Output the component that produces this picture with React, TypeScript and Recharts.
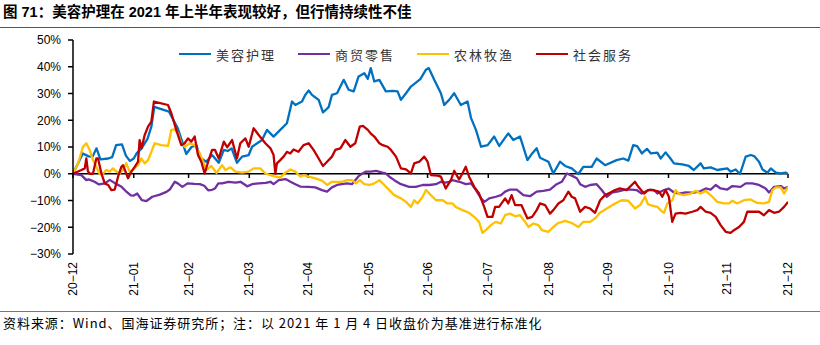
import React from "react";
import { LineChart, Line, XAxis, YAxis, ReferenceLine } from "recharts";

// x = days after 2020-12-31, y = % change vs. 2021-01-04 close
const beauty: [number, number][] = [
  [0,0],[5,7.6],[8,6.5],[10,6.4],[12,9.5],[14,5.4],[18,5.7],[20,6.2],[22,10.7],[25,11],[27,6.8],[29,4.8],[31,5.7],[32.5,7.6],[35,9.5],[38,13],[40,17.6],[41.5,25],[49,23.2],[53.5,17],[55.5,12.6],[57.8,7.4],[60.5,10],[63,10.7],[65,6],[68,4.5],[71,7],
  [74.4,4.1],[77,8.9],[79,8.5],[81,9.5],[83.7,4.1],[86.3,6.4],[89.7,7],[91.4,10.1],[96.5,12.6],[99,16.4],[102.4,13.9],[105.8,16.4],[109.2,18.9],[111.8,27],[113.5,25.7],[116.9,27],[118.6,29.5],[120.3,31.1],[122,29.5],[125.4,27.6],[127.6,22.9],[130.5,24.9],[132.2,29.5],[134.8,30.1],[138.2,35.1],[140.7,31.4],[143.3,30.8],[145.8,36.4],[148.7,37.6],[150.5,35.5],[152,39.5],[153.8,34.5],[156.4,35.1],[159.7,30.8],[163.2,31],[165.7,30.8],[167.4,27.6],[170,30.1],[172.5,32.6],[177.3,35.4],[180.2,38.9],[181.6,39.5],[184.4,35.1],[186.1,32.6],[187.8,30.1],[189.5,25.7],[192,27.6],[194.6,30.1],[198,25.7],[201.4,27],[203.2,20.8],[205.7,16.4],[208.3,10.1],[211.7,10.7],[215,13.9],[217.6,10.4],[222.2,15.1],[224.8,12.6],[228.2,13.9],[232,5.1],[234.4,7.6],[236.7,9.5],[238.4,6],[242.7,4.5],[245.2,0.1],[248.6,4.5],[251.2,2.9],[254.6,2],[258,-0.1],[260.5,2.6],[264.8,2.6],[267.3,5.7],[271.6,3.2],[277.5,5.1],[280.9,5.7],[283.5,4.9],[286,10.7],[288,10.3],[290.4,7.6],[293,9.3],[295,7.6],[298.3,7.9],[300,5.7],[302.5,8],[305,5.7],[306.8,3.9],[311,3.5],[314.4,2.9],[316.9,1.4],[320.4,3.9],[322,2],[325.5,2.4],[328.9,1.4],[334,2],[335.7,0.8],[338.3,1.6],[340.5,-0.1],[343.4,6.4],[346,7],[347.7,6.6],[350.2,4.5],[352,1.6],[354.5,0.4],[356.2,2],[358.8,0.4],[361.3,0.1],[363.9,0.4],[365,-0.1],
];

const retail: [number, number][] = [
  [0,0],[4.3,-0.5],[6.8,-2.4],[8,-2.1],[11,-3],[13.3,-4],[16.2,-3.6],[18.8,-2.3],[21.5,-3.6],[24.8,-4.9],[27.4,-6.8],[29.5,-8.1],[30.8,-8.2],[32.8,-7.4],[35.2,-9.9],[37.5,-10.2],[40.5,-8.6],[44.3,-7.8],[47.7,-6.8],[49.4,-5.9],[51.9,-3],[53.5,-3.6],[55.8,-4.9],[58.5,-3.6],[62,-3.8],[64.8,-3.9],[67,-4.5],[69,-6.2],[71,-6],[72.5,-5.5],[74.2,-3.6],[76.1,-3.6],[79.4,-3],[83,-3.3],[85.5,-3],[88.9,-4.7],[91.4,-3.9],[94.8,-3.6],[98.3,-3.4],[100.8,-3],[102.4,-3.9],[105,-2.4],[108.5,-2],[111,-3],[113.5,-3.9],[116,-4.8],[120.3,-4.9],[123.7,-5.1],[127.1,-6.1],[129.7,-6.7],[132.2,-5.1],[134.8,-4.2],[137.3,-3.9],[139.9,-3.6],[142.4,-3.9],[144.1,-2.4],[145.8,-0.9],[147.5,0],[149.6,0.8],[152,0.8],[154.7,1.1],[158,0.4],[159.7,0.1],[161.5,-1.1],[164,-2.4],[167.4,-3.9],[171.6,-4.9],[175,-4.9],[178.5,-4.2],[181.9,-4.2],[185.3,-3.9],[187.8,-3],[190,-3.3],[192,-3],[193.7,-2.4],[197.2,-3],[200.6,-3.9],[203.2,-3.6],[205.7,-6.1],[208.3,-9.2],[210,-10.5],[212.5,-9.2],[215.9,-8.6],[218.5,-8],[220.6,-6.7],[223.1,-5.9],[226.5,-5.9],[229.9,-8],[233.3,-8.4],[236.7,-6.7],[240.1,-6.4],[243.5,-5.9],[246.9,-3.9],[249.5,-3],[252.1,0.1],[254.6,-0.7],[257.2,-1.7],[258.9,-3.9],[261.4,-4.9],[264,-4.2],[267.3,-3.9],[269.9,-6.1],[272.5,-8.6],[275,-7.1],[278.4,-6.6],[281.8,-5.9],[285.2,-5.9],[287.7,-6.1],[290.3,-7.4],[292.8,-6.5],[294.5,-5.9],[296.6,-6.1],[298.3,-7.4],[301.7,-6.1],[304.2,-5.6],[306.8,-7],[309.4,-7.4],[312.7,-7],[316.1,-7.1],[319.6,-6.7],[323,-5.5],[325.5,-5.9],[328.1,-4.2],[330.6,-5.5],[334,-5.9],[336.6,-4.6],[340.8,-4.9],[343.4,-3.6],[346.8,-3.6],[350.2,-4.2],[353.6,-5.5],[355.3,-7],[357.9,-4.9],[361.3,-4.6],[363,-5.5],[365,-4.9],
];

const agri: [number, number][] = [
  [0,0],[2.6,3.9],[5.1,10.1],[6.8,11.4],[8.5,8.9],[10.2,5.1],[11.9,2.6],[13.6,-0.1],[15.3,0],[17,1.4],[18.7,0.8],[20.4,2],[22.1,0.8],[23.8,0.1],[25.5,1.4],[27.2,3.9],[28.9,0.8],[30.6,1.4],[33.2,3.2],[34.9,5.7],[36.6,3.9],[38.3,5.1],[40,8.2],[41.7,11.4],[45.1,10.7],[48.5,10.4],[50.2,16.4],[51.9,16.6],[53.6,15.1],[55.3,11.4],[57,10.1],[59.6,11.4],[62.1,10.7],[64.7,7.6],[66.4,4.5],[68.1,1.4],[70.6,2.9],[73.3,0.3],[76.1,3.2],[77.8,1.4],[80.4,2.4],[82.9,0.8],[86.3,0.4],[89.7,0.8],[92.2,2],[95.6,2],[98.2,0.1],[100.8,-0.5],[103.3,-1.1],[105.9,-1.4],[108.4,0.4],[111,1.6],[113.5,0.8],[116.1,-1.1],[117.8,-0.5],[120.3,-1.1],[123.7,-1.7],[127.1,-2.6],[129.7,-4.2],[132.2,-3],[134.8,-3],[137.3,-3],[139.9,-2.4],[142.4,-2.4],[144.5,-3.6],[146.4,-2.4],[148.7,-3.9],[151.3,-4.2],[153.8,-3.6],[156.4,-2.4],[158.9,-4.2],[161.5,-6.1],[164,-8],[167.4,-9.2],[170,-10.5],[172.5,-12.4],[174.2,-9.9],[175.9,-11.1],[178.5,-8.6],[180.2,-6.1],[182.7,-8],[185.3,-9.9],[188.7,-9.9],[191.2,-11.1],[193.7,-11.1],[195.4,-12.4],[198.8,-13.6],[202.2,-14.6],[204.8,-16.1],[207.3,-18],[209,-22.1],[210.7,-21.1],[213.3,-19.2],[215.8,-18],[218.4,-18.6],[220.6,-15.5],[223.1,-14.9],[225.7,-15.9],[228.2,-15.5],[230.8,-18],[232.5,-19.9],[235,-18.6],[237.6,-19.2],[239.3,-21.1],[242.7,-21.7],[245.2,-19.9],[247.8,-18.4],[251.2,-17.6],[254.6,-18.4],[258,-19.9],[260.5,-18],[264,-18],[266.5,-16.7],[269,-14.6],[272.5,-13],[276.7,-11.1],[280.1,-9.9],[283.5,-10.1],[286.9,-13],[289.5,-11.7],[292,-8.6],[293.5,-11.4],[296,-12],[298.3,-12.4],[300.8,-14.2],[301.7,-14.6],[303.4,-11.1],[306,-9.9],[307.6,-6.1],[309.4,-7.6],[311.9,-8],[315.3,-7.4],[317.9,-6.4],[320.4,-7.4],[323,-6.4],[326.4,-8.6],[328.9,-10.5],[332.3,-11.1],[334.9,-11.1],[336.6,-10.1],[339.1,-11.1],[342.5,-9.9],[345.9,-9.6],[349.3,-10.9],[352.7,-11.1],[355.3,-10.5],[357,-6.1],[358.7,-5.1],[361.3,-5.1],[363,-7.4],[365,-4.9],
];

const service: [number, number][] = [
  [0,0],[4.3,1.4],[6,2],[6.8,5.7],[7.6,1],[8.5,0],[10.2,0],[11.9,5.7],[12.8,5.7],[14.5,0.1],[16.2,-3.6],[17.9,-4.2],[19.6,-6.1],[21.3,-5.9],[23,-1.1],[24.7,2.6],[25.5,3.2],[26.5,1.4],[28.1,-1.7],[29.8,0.8],[31.5,2.6],[33.2,4.5],[34,12.6],[35,9.5],[36.6,14.5],[38.3,17.6],[40,19.5],[41.3,27],[48.5,25.7],[50.2,22.6],[52.7,16.4],[55.3,10.7],[57,11.4],[58.7,13.2],[60.4,12],[62.1,13.9],[63.8,7],[65.5,4.5],[67.2,0.1],[69,4.5],[71,8.9],[72.5,8.9],[74.4,5.7],[77,12],[78.7,9.9],[81.2,12.6],[83.7,5.7],[85.4,11.4],[88,13.2],[89.7,10.1],[92.2,17],[94.8,14.5],[98.2,11.4],[100.8,9.5],[102.4,7],[103.3,0],[104.1,3.9],[105.8,5.1],[107.5,6.4],[109.2,8.2],[110.9,7.6],[112.6,9.1],[115.1,8.2],[117.7,10.7],[120.3,11.4],[122.8,8.9],[125.4,5.7],[127.6,2.9],[129.7,4.5],[132.2,6.4],[133.9,8.9],[136.5,9.5],[139,12.6],[141.6,10.1],[144.1,11.4],[146.4,17.6],[148,17.9],[150.5,16.4],[152.2,14.9],[153.8,13.9],[156.4,11.4],[158.1,10.7],[160.6,10.1],[162.3,8.9],[164.9,6.4],[167.4,2],[170,1.6],[172.5,0.1],[174.2,3.9],[176.8,4.5],[179.3,6.4],[181,4.5],[182.7,-0.5],[186.1,-0.7],[187.8,-1.1],[190.3,-5.5],[192.9,-2.4],[194.6,1.1],[197.1,-2.1],[198.8,0.1],[200.5,2.6],[202.2,-1.1],[204.8,-4.9],[207.3,-7.4],[209.9,-12.4],[211.6,-16.1],[214.1,-16.1],[215.5,-12.4],[217.5,-12.4],[220.6,-9.2],[222.2,-11.1],[223.9,-8],[225.7,-11.7],[228.9,-11.7],[232,-16.7],[234.4,-16.1],[236.7,-13.6],[238.4,-11.1],[241,-11.7],[243.5,-14.9],[245.2,-13.6],[247.8,-11.1],[250.3,-9.9],[252.9,-6.7],[254.6,-8.6],[256.3,-9.2],[258.9,-14.2],[261.4,-12.4],[264,-13],[266.5,-14.6],[269.1,-9.9],[271.6,-8],[274.1,-7.1],[276.7,-6.1],[279.2,-5.5],[282.6,-6.1],[286.9,-3],[288.6,-4.9],[291.5,-7.4],[293.5,-6.1],[295.8,-6.1],[299.2,-6.7],[300.8,-8.6],[302.5,-6.1],[304.2,-8.6],[305.9,-18],[307.6,-14.9],[310.1,-14.6],[312.7,-14.9],[316.1,-14.2],[318.7,-13.6],[320.4,-12.4],[323,-14.2],[325.5,-14.6],[328.1,-16.1],[330.6,-19.2],[333.2,-21.7],[335.7,-22.1],[337.4,-21.1],[340,-19.9],[342.5,-18],[344.2,-14.2],[347.6,-14.2],[350.2,-14.2],[352.7,-15.5],[355.3,-13.6],[357.9,-14.6],[360.4,-14.2],[363,-12.4],[365,-10.5],
];

// month-end tick positions (days after 2020-12-31) and labels
const monthEndDays = [0, 31, 59, 90, 120, 151, 181, 212, 243, 273, 304, 334, 365];
const monthLabels = ["20−12", "21−01", "21−02", "21−03", "21−04", "21−05", "21−06", "21−07", "21−08", "21−09", "21−10", "21−11", "21−12"];
const yTicks = [-30, -20, -10, 0, 10, 20, 30, 40, 50];

const seriesNames = ["美容护理", "商贸零售", "农林牧渔", "社会服务"];
const seriesColors = ["#0070C0", "#7030A0", "#FFC000", "#C00000"];
const seriesData = [beauty, retail, agri, service];

const LATIN = "'Liberation Sans', Arial, 'Noto Sans CJK SC', sans-serif";
const CJK = "'Liberation Sans', 'Noto Sans CJK SC', sans-serif";

const XTick = (props: any) => {
  const { x, y, payload } = props;
  const idx = monthEndDays.indexOf(payload.value);
  return (
    <text
      x={x}
      y={y}
      transform={`rotate(-90 ${x} ${y})`}
      textAnchor="end"
      dominantBaseline="central"
      fontSize={12}
      fontFamily={LATIN}
      fill="#000"
    >
      {idx >= 0 ? monthLabels[idx] : ""}
    </text>
  );
};

const fmtY = (v: number) => (v < 0 ? `−${Math.abs(v)}%` : `${v}%`);

export default function App() {
  return (
    <div style={{ position: "absolute", left: 0, top: 0, width: 820, height: 345, background: "#fff", overflow: "hidden" }}>
      <div
        style={{
          position: "absolute",
          left: 3,
          top: 3,
          fontSize: 14.5,
          fontWeight: "bold",
          fontFamily: CJK,
          color: "#000",
          whiteSpace: "nowrap",
          lineHeight: "18px",
        }}
      >
        图 71：美容护理在 2021 年上半年表现较好，但行情持续性不佳
      </div>
      <div style={{ position: "absolute", left: 0, top: 27, width: 820, height: 0, borderTop: "1.5px solid #555" }} />

      <div style={{ position: "absolute", left: 0, top: 0 }}>
        <LineChart width={820} height={310} margin={{ top: 40, right: 32, bottom: 6, left: 0 }}>
          <XAxis
            type="number"
            dataKey="d"
            domain={[0, 365]}
            ticks={monthEndDays}
            tick={<XTick />}
            tickLine={false}
            axisLine={false}
            tickSize={6}
            tickMargin={2}
            height={50}
            interval={0}
            allowDataOverflow
          />
          <YAxis
            type="number"
            domain={[-30, 50]}
            ticks={yTicks}
            tickFormatter={fmtY}
            width={73}
            tickSize={5}
            tickMargin={7}
            axisLine={{ stroke: "#000", strokeWidth: 1.5 }}
            tickLine={{ stroke: "#000", strokeWidth: 1.5 }}
            tick={{ fontSize: 12, fontFamily: LATIN, fill: "#000" }}
            interval={0}
          />
          <ReferenceLine y={0} stroke="#000" strokeWidth={1.5} />
          {monthEndDays.map((d) => (
            <ReferenceLine
              key={`t${d}`}
              segment={[{ x: d, y: 0 }, { x: d, y: -1.6 }]}
              stroke="#000"
              strokeWidth={1.5}
            />
          ))}
          {seriesData.map((s, i) => (
            <Line
              key={seriesNames[i]}
              data={s.map(([d, v]) => ({ d, v }))}
              dataKey="v"
              name={seriesNames[i]}
              stroke={seriesColors[i]}
              strokeWidth={2.3}
              dot={false}
              activeDot={false}
              isAnimationActive={false}
              strokeLinejoin="round"
            />
          ))}
        </LineChart>
      </div>

      <div style={{ position: "absolute", left: 179, top: 45, display: "flex", alignItems: "center", height: 18 }}>
        {seriesNames.map((n, i) => (
          <div key={n} style={{ display: "flex", alignItems: "center", marginRight: i < 3 ? 22 : 0 }}>
            <div style={{ width: 32, height: 2.5, background: seriesColors[i], marginRight: 5 }} />
            <span style={{ fontSize: 13, letterSpacing: 2, fontFamily: "'Noto Sans CJK SC', sans-serif", color: "#333", whiteSpace: "nowrap" }}>
              {n}
            </span>
          </div>
        ))}
      </div>

      <div style={{ position: "absolute", left: 0, top: 311, width: 820, height: 0, borderTop: "1px solid #777" }} />
      <div
        style={{
          position: "absolute",
          left: 3,
          top: 315,
          fontSize: 13,
          fontFamily: "'Noto Sans CJK SC', sans-serif",
          color: "#000",
          whiteSpace: "nowrap",
          lineHeight: "16px",
          letterSpacing: 0.95,
        }}
      >
        资料来源：Wind、国海证券研究所；注：以 2021 年 1 月 4 日收盘价为基准进行标准化
      </div>
    </div>
  );
}
